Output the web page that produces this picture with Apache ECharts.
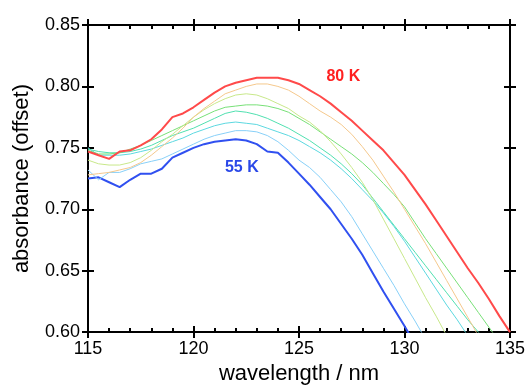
<!DOCTYPE html>
<html>
<head>
<meta charset="utf-8">
<script src="https://cdn.jsdelivr.net/npm/echarts@6/dist/echarts.min.js"></script>
<style>html,body{margin:0;padding:0;background:#fff;}#c{width:528px;height:390px;}</style>
</head>
<body>
<div id="c"></div>
<script>
const wavelength = [115,115.5,116,116.5,117,117.5,118,118.5,119,119.5,120,120.5,121,121.5,122,122.5,123,123.5,124,124.5,125,125.5,126,126.5,127,127.5,128,128.5,129,129.5,130,130.5,131,131.5,132,132.5,133,133.5,134,134.5,135];

const k80 = [.747,.744,.741,.747,.748,.752,.757,.765,.775,.778,.783,.789,.795,.800,.803,.805,.807,.807,.807,.805,.802,.797,.792,.786,.779,.772,.764,.756,.748,.738,.728,.716,.704,.691,.678,.665,.652,.640,.627,.613,.600];
const orange = [.728,.729,.730,.732,.734,.738,.744,.751,.758,.766,.775,.782,.788,.794,.797,.800,.802,.802,.800,.797,.792,.786,.780,.775,.769,.761,.751,.740,.727,.714,.700,.686,.672,.657,.642,.627,.612,.597,.582,.567,.552];
const yellowGreen = [.740,.737,.736,.736,.738,.742,.748,.755,.761,.768,.775,.781,.786,.790,.793,.794,.793,.790,.786,.782,.776,.771,.764,.755,.745,.734,.722,.708,.692,.676,.660,.644,.628,.613,.597,.581,.565,.549,.533,.517,.501];
const green = [.748,.745,.745,.746,.749,.752,.756,.760,.764,.768,.772,.776,.780,.783,.784,.785,.785,.784,.782,.779,.774,.769,.763,.757,.751,.745,.738,.730,.721,.712,.702,.689,.676,.664,.652,.640,.628,.616,.604,.592,.580];
const aqua = [.749,.747,.746,.746,.747,.749,.752,.756,.760,.763,.766,.770,.774,.778,.780,.779,.777,.774,.770,.766,.761,.756,.750,.744,.737,.729,.720,.709,.698,.687,.676,.665,.654,.643,.632,.621,.610,.600,.589,.578,.567];
const cyan = [.750,.744,.744,.744,.745,.747,.749,.752,.755,.758,.762,.765,.768,.770,.771,.770,.769,.766,.763,.760,.756,.751,.746,.740,.733,.725,.716,.707,.697,.686,.674,.661,.648,.635,.622,.610,.597,.584,.571,.558,.545];
const lightBlue = [.732,.724,.730,.730,.733,.737,.739,.741,.745,.749,.753,.757,.760,.762,.764,.764,.763,.760,.755,.748,.740,.734,.726,.716,.706,.694,.680,.666,.652,.638,.623,.609,.594,.580,.565,.551,.536,.522,.507,.493,.478];
const k55 = [.725,.726,.722,.718,.724,.729,.729,.733,.742,.746,.750,.753,.755,.756,.757,.756,.753,.747,.746,.738,.729,.720,.710,.700,.688,.676,.663,.648,.633,.619,.605,.590,.575,.560,.545,.530,.515,.500,.485,.470,.455];

const xTicks = [115,120,125,130,135];
const yTicks = [0.60,0.65,0.70,0.75,0.80,0.85];

const FONT = '"Liberation Sans", Arial, sans-serif';
const pairs = v => wavelength.map((w,i)=>[w,v[i]]);

const seriesDefs = [
  {name:'55 K', data:k55, color:'#3050f0', width:2},
  {name:'s2', data:lightBlue, color:'#88d0f8', width:1},
  {name:'s3', data:cyan, color:'#5cd8e0', width:1},
  {name:'s4', data:aqua, color:'#50e0b0', width:1},
  {name:'s5', data:green, color:'#78e078', width:1},
  {name:'s6', data:yellowGreen, color:'#c8e88a', width:1},
  {name:'s7', data:orange, color:'#f5c88c', width:1},
  {name:'80 K', data:k80, color:'#ff4a4a', width:2}
];

const chart = echarts.init(document.getElementById('c'), null, {renderer:'canvas'});
const axisLine = {show:true, lineStyle:{color:'#000', width:2}};
const xBase = {type:'value', min:115, max:135, interval:5};
const yBase = {type:'value', min:0.60, max:0.85, interval:0.05};

const series = seriesDefs.map(s => ({
  type:'line', name:s.name, data:pairs(s.data), showSymbol:false, symbol:'none',
  clip:true, xAxisIndex:0, yAxisIndex:0,
  lineStyle:{color:s.color, width:s.width}, itemStyle:{color:s.color}, z:2
}));
series[7].markPoint = {symbol:'circle', symbolSize:0, data:[{coord:[127.1,0.8077]}],
  label:{show:true, position:'inside', formatter:'80 K', color:'#ff2020', fontWeight:'bold', fontSize:16, fontFamily:FONT}};
series[0].markPoint = {symbol:'circle', symbolSize:0, data:[{coord:[122.29,0.7339]}],
  label:{show:true, position:'inside', formatter:'55 K', color:'#2a48e8', fontWeight:'bold', fontSize:16, fontFamily:FONT}};

chart.setOption({
  animation:false,
  backgroundColor:'#fff',
  grid:{left:88, right:18, top:25, bottom:55, containLabel:false},
  xAxis:[
    Object.assign({}, xBase, {position:'bottom', axisLine,
      axisTick:{show:true, inside:true, length:6, lineStyle:{color:'#000', width:2}},
      minorTick:{show:true, splitNumber:5, length:4, lineStyle:{color:'#000', width:2}},
      axisLabel:{show:true, margin:8, color:'#000', fontSize:18, fontFamily:FONT,
        formatter:v=>xTicks.includes(v)?String(v):''},
      splitLine:{show:false}, minorSplitLine:{show:false},
      name:'wavelength / nm', nameLocation:'middle', nameGap:30,
      nameTextStyle:{color:'#000', fontSize:22, fontFamily:FONT}}),
    Object.assign({}, xBase, {position:'bottom', axisLine:{show:false},
      axisTick:{show:true, inside:false, length:6, lineStyle:{color:'#000', width:2}},
      axisLabel:{show:false}, splitLine:{show:false}}),
    Object.assign({}, xBase, {position:'top', axisLine,
      axisTick:{show:true, inside:true, length:6, lineStyle:{color:'#000', width:2}},
      minorTick:{show:true, splitNumber:5, length:4, lineStyle:{color:'#000', width:2}},
      axisLabel:{show:false}, splitLine:{show:false}}),
    Object.assign({}, xBase, {position:'top', axisLine:{show:false},
      axisTick:{show:true, inside:false, length:6, lineStyle:{color:'#000', width:2}},
      axisLabel:{show:false}, splitLine:{show:false}})
  ],
  yAxis:[
    Object.assign({}, yBase, {position:'left', axisLine,
      axisTick:{show:true, inside:true, length:6, lineStyle:{color:'#000', width:2}},
      axisLabel:{show:true, margin:8, color:'#000', fontSize:18, fontFamily:FONT,
        formatter:v=>{const t=yTicks.find(x=>Math.abs(x-v)<1e-9);return t===undefined?'':t.toFixed(2);}},
      splitLine:{show:false},
      name:'absorbance (offset)', nameLocation:'middle', nameGap:55, nameRotate:90,
      nameTextStyle:{color:'#000', fontSize:22, fontFamily:FONT}}),
    Object.assign({}, yBase, {position:'left', axisLine:{show:false},
      axisTick:{show:true, inside:false, length:6, lineStyle:{color:'#000', width:2}},
      axisLabel:{show:false}, splitLine:{show:false}}),
    Object.assign({}, yBase, {position:'right', axisLine,
      axisTick:{show:true, inside:true, length:6, lineStyle:{color:'#000', width:2}},
      axisLabel:{show:false}, splitLine:{show:false}}),
    Object.assign({}, yBase, {position:'right', axisLine:{show:false},
      axisTick:{show:true, inside:false, length:6, lineStyle:{color:'#000', width:2}},
      axisLabel:{show:false}, splitLine:{show:false}})
  ],
  series
});
</script>
</body>
</html>
